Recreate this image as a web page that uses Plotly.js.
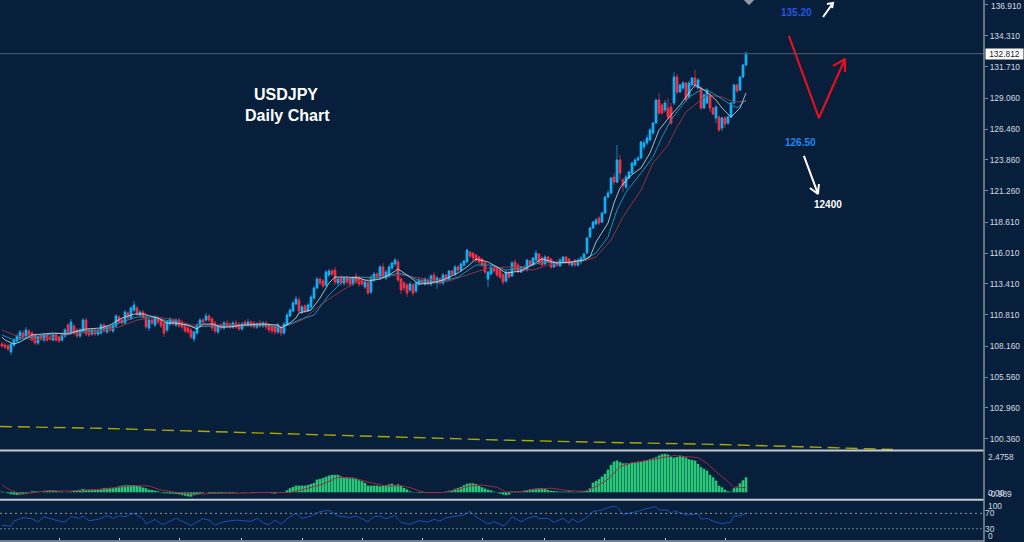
<!DOCTYPE html>
<html><head><meta charset="utf-8">
<script src="https://cdn.plot.ly/plotly-3.0.1.min.js"></script>
<style>html,body{margin:0;padding:0;background:#071f3b;overflow:hidden}#c{width:1024px;height:542px}</style>
</head><body><div id="c"></div>
<script>
const opens=[
108.35,108.26,108.18,107.68,108.26,108.60,108.85,109.27,109.02,109.44,
109.27,109.11,108.43,109.02,108.68,109.11,108.94,108.68,109.11,108.94,
108.68,109.02,109.95,109.27,109.87,109.53,109.02,109.44,110.37,109.53,
109.19,109.53,109.19,109.27,109.95,109.36,109.78,109.44,109.87,110.62,
110.37,110.12,110.96,110.54,111.21,111.38,110.79,111.04,110.62,109.70,
110.37,109.95,110.54,110.37,110.12,109.53,110.03,110.37,109.95,110.37,
110.20,109.95,109.70,109.53,108.77,109.27,109.87,110.37,110.37,110.71,
110.46,110.12,109.36,109.95,109.70,110.12,110.03,109.78,110.12,110.03,
109.61,110.20,109.95,110.20,110.12,109.78,110.12,109.87,110.12,109.95,
109.78,109.87,109.36,109.78,109.27,109.95,110.71,111.13,111.72,112.05,
111.04,111.55,111.13,111.47,112.22,113.07,113.82,113.66,113.32,114.16,
114.50,114.58,113.49,113.91,113.49,113.91,113.82,113.40,114.08,113.91,
113.74,113.15,113.49,112.73,113.74,114.24,113.91,114.84,113.91,114.08,
114.75,115.09,115.26,113.82,113.49,113.32,112.90,113.32,112.81,113.40,
113.74,113.40,113.74,113.40,114.16,113.49,113.82,113.49,114.16,113.82,
114.50,114.24,114.84,114.58,115.00,115.26,116.10,116.01,115.85,115.68,
115.51,115.17,113.82,114.24,114.84,114.75,114.58,114.16,113.66,114.41,
114.08,115.26,115.00,114.41,114.84,114.58,115.34,115.00,115.42,115.93,
115.59,115.09,115.68,115.51,114.84,115.26,114.92,115.26,115.68,115.51,
115.00,115.42,115.00,115.26,115.59,116.01,117.36,118.12,118.46,118.96,
118.63,119.39,120.73,121.07,122.42,121.99,123.85,122.17,121.57,122.33,
122.75,123.43,123.85,124.02,124.95,125.28,125.54,126.12,126.97,128.90,
128.48,128.06,128.23,128.32,128.65,130.84,129.58,129.92,130.34,129.16,
130.17,130.76,129.92,129.92,128.23,128.65,129.33,128.23,127.39,127.47,
126.55,127.39,126.97,127.47,128.65,130.17,129.75,130.84,131.85];
const closes=[
108.18,108.10,107.93,108.35,108.68,109.02,109.36,108.94,109.53,109.11,
108.68,108.43,108.94,108.77,109.11,108.68,108.77,109.11,108.68,108.60,
109.11,109.53,109.27,110.20,109.27,109.02,109.53,110.37,109.19,109.11,
109.53,109.19,109.44,109.95,109.44,109.78,109.53,109.95,110.71,110.20,
110.12,111.04,110.54,111.38,111.63,110.87,111.04,110.62,109.78,110.37,
110.12,110.62,110.20,109.87,109.27,110.20,110.46,110.03,110.37,109.87,
109.78,109.44,109.36,108.94,109.36,109.95,110.37,110.20,110.71,110.37,
109.70,109.44,109.87,109.70,110.12,109.87,109.78,110.12,109.78,109.61,
110.03,109.95,110.20,109.87,109.78,110.03,109.87,110.12,109.78,109.53,
109.44,109.36,109.95,109.27,110.03,110.79,111.21,111.80,112.14,111.13,
111.47,111.13,111.63,112.31,113.07,113.82,113.49,113.24,114.41,114.50,
114.24,113.57,113.82,113.49,113.91,113.57,113.40,113.91,113.57,113.40,
113.40,113.57,112.64,113.99,114.24,113.99,114.84,113.99,114.41,114.84,
115.17,115.42,113.74,112.90,113.07,112.64,113.40,112.64,113.49,113.74,
113.49,113.82,113.40,114.08,113.57,113.91,113.49,114.16,113.82,114.50,
114.24,114.84,114.58,115.09,115.34,116.27,115.76,115.59,115.42,115.26,
115.00,114.41,114.41,114.84,114.50,114.16,113.99,113.57,114.41,113.99,
115.17,114.58,114.41,114.84,114.58,115.42,115.00,115.59,116.01,115.17,
115.00,115.68,115.26,114.84,115.26,115.00,115.42,115.68,115.26,115.09,
115.26,115.00,115.42,115.59,115.93,117.28,118.12,118.63,118.80,118.54,
119.39,120.73,121.07,122.33,121.99,123.85,122.75,121.74,122.42,122.84,
123.60,123.85,124.02,125.37,125.28,125.70,126.38,126.97,128.90,127.81,
127.81,128.65,127.47,126.97,130.84,129.58,130.17,130.34,128.90,130.34,
130.76,130.17,130.59,128.23,129.33,129.75,128.23,127.72,128.32,126.38,
127.39,126.88,127.47,128.65,130.17,129.67,130.84,131.85,132.86];
const highs=[
108.52,108.43,108.35,108.43,108.85,109.19,109.53,109.53,109.78,109.61,
109.44,109.27,109.02,109.19,109.27,109.27,109.11,109.19,109.27,109.02,
109.27,109.70,110.12,110.46,110.03,109.70,109.70,110.54,110.54,109.70,
109.70,109.70,109.61,110.12,110.12,109.95,109.95,110.12,110.87,110.79,
110.54,111.21,111.13,111.55,111.97,111.55,111.21,111.21,110.96,110.54,
110.54,110.79,110.71,110.54,110.29,110.37,110.62,110.54,110.54,110.54,
110.37,110.12,109.87,109.70,109.44,110.12,110.54,110.54,110.96,110.87,
110.62,110.29,110.03,110.12,110.29,110.37,110.20,110.29,110.37,110.20,
110.20,110.37,110.46,110.37,110.29,110.20,110.37,110.29,110.29,110.12,
109.95,110.03,110.12,109.95,110.20,110.96,111.38,111.97,112.39,112.31,
111.63,111.72,111.80,112.48,113.24,114.00,113.99,113.82,114.58,114.67,
114.67,114.84,113.99,114.08,114.08,114.08,113.99,114.08,114.33,114.08,
113.91,113.74,113.66,114.16,114.41,114.41,115.00,115.17,114.58,115.00,
115.26,115.59,115.51,113.99,113.66,113.49,113.57,113.49,113.66,113.99,
113.91,113.99,113.91,114.24,114.41,114.08,113.99,114.33,114.24,114.58,
114.58,115.00,115.00,115.26,115.42,116.35,116.18,116.10,115.93,115.76,
115.59,115.26,114.50,115.00,115.00,114.92,114.67,114.33,114.58,114.50,
115.34,115.51,115.17,114.92,115.00,115.51,115.42,115.68,116.27,116.01,
115.76,115.85,115.76,115.59,115.34,115.42,115.59,115.76,115.76,115.59,
115.34,115.51,115.59,115.76,116.01,117.36,118.20,118.71,118.96,119.13,
119.47,120.81,121.32,122.42,122.75,125.11,124.27,122.33,122.59,122.92,
123.68,124.02,124.19,125.45,125.54,125.96,126.55,127.05,129.00,129.50,
128.65,128.90,129.07,128.65,131.26,131.09,130.26,130.51,130.42,130.51,
130.84,131.43,130.76,130.09,129.50,129.92,129.50,128.32,128.48,127.64,
127.47,127.56,127.64,128.73,130.26,130.26,130.92,131.93,132.95];
const lows=[
108.01,107.93,107.76,107.40,108.10,108.43,108.68,108.77,108.85,108.94,
108.52,108.26,108.26,108.60,108.52,108.52,108.60,108.60,108.52,108.43,
108.52,108.85,109.11,109.11,109.11,108.85,108.85,109.27,109.02,108.94,
109.02,109.02,109.02,109.11,109.27,109.19,109.36,109.27,109.70,110.03,
109.95,109.95,110.37,110.37,111.04,110.71,110.62,110.46,109.61,109.44,
109.95,109.78,110.03,109.70,108.94,109.36,109.87,109.87,109.78,109.70,
109.61,109.27,109.19,108.77,108.52,109.11,109.70,110.03,110.20,110.20,
109.44,109.19,109.19,109.53,109.53,109.70,109.61,109.61,109.61,109.44,
109.44,109.78,109.78,109.70,109.61,109.61,109.70,109.70,109.53,109.27,
109.19,109.11,109.19,109.02,109.11,109.87,110.62,111.04,111.63,110.96,
110.87,110.96,111.04,111.30,112.05,112.98,113.32,113.07,113.15,114.00,
114.08,113.32,113.24,113.24,113.24,113.32,113.15,113.24,113.40,113.15,
113.24,112.98,112.48,112.56,113.57,113.82,113.74,113.82,113.74,113.91,
114.58,114.92,113.57,112.56,112.81,112.31,112.73,112.39,112.64,113.24,
113.32,113.24,113.24,113.24,113.32,112.98,113.32,113.32,113.66,113.66,
114.16,114.08,114.41,114.41,114.84,115.17,115.59,115.34,115.17,115.09,
114.84,114.24,113.15,114.16,114.33,114.00,113.82,113.32,113.49,113.82,
113.99,114.41,114.33,114.33,114.41,114.50,114.84,114.92,115.34,115.00,
114.92,115.00,115.17,114.67,114.75,114.84,114.84,115.17,115.09,114.92,
114.84,114.84,114.84,115.09,115.42,115.93,117.28,118.04,118.37,118.37,
118.54,119.30,120.64,120.98,121.74,121.90,122.17,121.15,121.40,122.25,
122.67,123.35,123.76,123.93,124.69,125.11,125.45,125.96,126.88,127.64,
127.64,127.89,127.30,126.80,128.48,129.33,129.50,129.75,128.73,129.00,
130.09,129.92,129.83,128.06,128.15,128.56,127.89,127.64,126.97,126.22,
126.30,126.55,126.80,127.39,128.56,129.50,129.67,130.76,131.76];

const fastBars=[0,1,4,6,10,14,17,22,24,28,33,36,40,44,47,52,55,58,62,65,67,70,73,76,80,87,92,93,96,98,99,103,106,109,111,115,119,122,126,129,132,135,139,143,147,152,155,158,162,165,168,173,176,180,185,190,194,196,198,202,204,206,209,213,216,219,223,226,229,231,234,235,238,240,243,246,248];
const fastMA=[108.94,108.68,108.35,108.52,109.11,109.19,109.27,109.19,109.36,109.61,109.70,109.95,110.54,110.87,110.87,110.54,110.12,110.12,109.95,109.61,110.03,110.03,109.78,109.78,109.95,110.03,109.95,109.70,110.12,110.54,110.96,111.21,112.22,113.49,113.99,113.99,113.91,113.66,113.82,114.16,114.67,114.16,113.40,113.49,113.74,114.33,114.84,115.51,115.26,114.84,114.33,114.50,114.92,115.51,115.17,115.26,115.42,115.68,116.94,118.54,120.23,121.49,122.42,123.18,124.44,126.38,127.64,128.48,129.50,130.17,129.75,129.58,128.90,128.23,127.47,128.23,129.50];
const midBars=[0,4,10,17,25,33,39,45,50,57,64,70,79,88,93,99,104,109,114,119,126,132,135,140,146,152,158,163,168,175,180,187,193,198,202,205,208,213,217,220,223,226,229,233,235,239,242,245,248];
const midMA=[109.11,108.68,108.94,109.19,109.36,109.53,110.12,110.62,110.62,110.20,109.78,109.87,109.87,109.95,109.70,110.37,110.79,112.48,113.74,113.99,113.91,114.33,114.16,113.57,113.57,113.99,115.00,115.00,114.58,114.84,115.26,115.17,115.34,116.01,117.36,119.64,121.15,122.75,124.10,125.79,127.22,128.23,129.16,129.75,129.75,129.16,128.65,128.23,128.90];
const slowBars=[0,4,10,16,23,33,39,45,52,58,63,70,79,88,93,100,107,112,118,125,133,139,148,155,162,169,177,182,188,193,198,203,207,213,217,222,225,228,233,235,240,244,248];
const slowMA=[109.53,109.11,108.68,108.85,109.19,109.44,109.78,110.37,110.62,110.37,109.95,109.95,109.95,110.03,109.70,110.37,111.80,112.64,113.57,113.99,114.16,113.91,113.57,114.16,114.75,114.84,114.58,115.00,115.26,115.26,115.68,117.11,119.05,121.32,123.60,125.11,126.63,127.89,128.90,129.33,129.16,128.73,128.82];
const longBars=[-0.7,32.7,66,99.3,132.7,166,199.3,232.7,266,297];
const longMA=[101.40,101.25,101.00,100.74,100.54,100.26,100.07,99.92,99.70,99.46];

const macdHist=[
.04,-.02,-.06,-.12,-.14,-.16,-.14,-.10,-.06,.02,
.06,.06,.04,0,.06,.10,.12,.12,.10,.04,
.04,0,-.02,.04,.10,.12,.16,.21,.16,.16,
.16,.16,.16,.21,.27,.27,.27,.27,.31,.37,
.41,.43,.43,.45,.45,.41,.37,.29,.25,.16,
.14,.10,.06,-.02,-.06,-.06,-.08,-.08,-.10,-.12,
-.16,-.21,-.25,-.27,-.18,-.14,-.10,-.04,0,-.04,
-.06,-.08,-.08,-.06,-.04,-.04,-.06,-.04,-.02,0,
-.02,-.02,0,-.02,-.04,0,0,0,-.02,-.04,
-.06,-.08,-.04,-.02,0,.12,.25,.33,.41,.41,
.41,.41,.45,.51,.57,.78,.82,.88,.96,1.03,
1.07,1.07,1.07,.98,.94,.90,.86,.86,.82,.74,
.68,.57,.41,.41,.41,.41,.37,.41,.45,.49,
.53,.45,.49,.39,.27,.18,.06,.02,-.02,-.04,
-.04,-.04,-.04,-.04,-.04,-.02,-.02,0,.04,.10,
.14,.21,.27,.33,.43,.53,.55,.55,.51,.39,
.31,.23,.16,.12,.04,-.02,-.08,-.14,-.18,-.14,
.06,.06,.06,.06,.10,.14,.18,.21,.23,.25,
.25,.21,.14,.10,.08,.06,.04,.04,.04,.06,
.04,.02,.04,.06,.08,.08,.25,.59,.70,.80,
.96,1.13,1.39,1.68,1.89,1.95,1.85,1.78,1.78,1.80,
1.82,1.82,1.85,1.87,1.93,1.99,2.05,2.09,2.15,2.26,
2.34,2.36,2.32,2.19,2.13,2.17,2.26,2.21,2.13,2.03,
1.99,1.95,1.74,1.54,1.44,1.33,1.07,.92,.72,.41,
.31,.16,.06,.04,.25,.35,.55,.74,.92];
const signalBars=[0,3,7,11,14,22,33,39,44,49,53,58,64,72,78,89,96,102,107,112,117,122,128,133,136,141,147,152,156,160,165,168,173,177,183,188,194,198,202,206,210,216,221,224,228,232,235,238,242,244,248];
const signalLine=[.45,.10,-.12,-.02,.08,.08,.18,.31,.41,.39,.14,0,-.12,-.06,-.06,0,-.02,.25,.51,.92,.90,.63,.39,.41,.29,-.02,-.02,.18,.39,.45,.31,.02,.04,.18,.25,.12,.06,.35,.80,1.58,1.82,1.99,2.15,2.26,2.19,2.13,1.78,1.27,.66,.29,.29];
const rsiBars=[0,3,4,7,10,12,14,17,19,21,23,26,27,29,32,35,37,39,41,44,47,48,51,53,54,58,61,63,67,69,71,74,78,83,85,87,89,91,93,96,98,100,103,106,109,112,116,118,122,124,126,128,131,133,136,139,142,144,146,148,154,156,158,162,164,167,168,170,173,175,178,179,182,184,187,189,190,192,195,197,200,203,205,207,212,214,218,219,222,223,224,228,232,233,235,237,240,243,244,246,248];
const rsiLine=[38.7,36.9,50,58.7,56.1,47.4,61.3,54.3,50,47.4,61.3,57,63,50.9,54.3,63.9,57,63.9,61.3,70,56.1,42.2,54.3,42.2,42.2,57,45.6,38.7,56.1,52.6,39.6,48.3,52.6,49.1,57,45.6,40.4,52.6,42.2,61.3,70,57,63,74.4,77.8,63,59.6,63,48.3,61.3,63,56.1,64.8,46.5,41.3,50.9,47.4,54.3,50,58.7,65.7,75.2,61.3,42.2,48.3,37.8,41.3,61.3,48.3,57,63,56.1,57,46.5,57,45.6,56.1,46.5,59.6,74.4,78.7,87.4,87.4,67.4,75.2,80.4,87.4,78.7,78.7,68.3,77,65.7,68.3,55.2,57,50,43,47.4,63.9,63,70];

const priceTicks=[136.91,134.31,131.71,129.06,126.46,123.86,121.26,118.61,116.01,113.41,110.81,108.16,105.56,102.96,100.36];
const rsiTicks=[70,30];
const timeTicks=[19.1,39.3,59.3,79.7,100,120,140.3,160.3,180.7,200.7,221,241];
const lastPrice=132.812;

const redArrowBars=[262.3,272.3,281,277,281,281];
const redArrowPrices=[134.30,127.39,132.36,131.77,132.36,131.26];
const upArrowBars=[273.7,277,275,277,276.7];
const upArrowPrices=[135.9,137.08,136.99,137.08,136.66];
const downArrowBars=[267.3,272,269.3,272,272.3];
const downArrowPrices=[124.19,120.99,121.49,120.99,121.83];

const barIndex=opens.map((_,i)=>i);
const bodyTop=opens.map((o,i)=>Math.max(o,closes[i]));
const bodyBottom=opens.map((o,i)=>Math.min(o,closes[i]));
const BG='#071f3b', AX='#7b8a97', TXT='#d3dbe2', FONT='"Liberation Sans", Arial, sans-serif';
const W=1024,H=542,RIGHT=984;
const px=v=>v/W, py=v=>1-v/H;
const xRange=[-2/3,(RIGHT-2)/3];

const line=(x,y,color,width,extra,axes)=>Object.assign({type:'scatter',mode:'lines',x,y,line:Object.assign({color,width},extra||{}),hoverinfo:'skip',showlegend:false},axes||{});

const traces=[
 {type:'candlestick',x:barIndex,open:opens,high:highs,low:lows,close:closes,
  increasing:{line:{color:'#1a7fb4',width:1},fillcolor:'#12b2f5'},
  decreasing:{line:{color:'#a92f44',width:1},fillcolor:'#f2304a'},
  whiskerwidth:0,hoverinfo:'skip',showlegend:false},
 {type:'candlestick',x:barIndex,open:opens,high:bodyTop,low:bodyBottom,close:closes,
  increasing:{line:{color:'#12b2f5',width:1},fillcolor:'#12b2f5'},
  decreasing:{line:{color:'#f2304a',width:1},fillcolor:'#f2304a'},
  whiskerwidth:0,hoverinfo:'skip',showlegend:false},
 line(slowBars,slowMA,'#8d3540',1),
 line(midBars,midMA,'#1f8fb0',1),
 line(fastBars,fastMA,'rgba(214,222,228,0.8)',1),
 line(longBars,longMA,'#a8a800',1.4,{dash:'12px,6px'}),
 line(redArrowBars,redArrowPrices,'#e2101f',2.2),
 line(upArrowBars,upArrowPrices,'#ffffff',2),
 line(downArrowBars,downArrowPrices,'#ffffff',2),
 {type:'scatter',mode:'markers',x:[249],y:[137.33],marker:{symbol:'diamond',size:8,color:'#8f9aa5'},hoverinfo:'skip',showlegend:false},
 {type:'bar',x:barIndex,y:macdHist,xaxis:'x2',yaxis:'y2',marker:{color:'#27c878',line:{width:0}},hoverinfo:'skip',showlegend:false},
 line(signalBars,signalLine,'#a02a3e',1,null,{xaxis:'x2',yaxis:'y2'}),
 line(rsiBars,rsiLine,'#1f4fb0',1,null,{xaxis:'x3',yaxis:'y3'})
];

const hidden={showgrid:false,zeroline:false,showline:false,showticklabels:false,ticks:'',range:xRange,domain:[0,px(RIGHT)],fixedrange:true};
const tickFont={family:FONT,size:8.4,color:TXT};
const note=(text,x,y,size,color,bold,anchor)=>({text:bold?'<b>'+text+'</b>':text,xref:'paper',yref:'paper',x:px(x),y:py(y),xanchor:anchor||'center',yanchor:'middle',showarrow:false,font:{family:FONT,size,color}});

const layout={
 width:W,height:H,margin:{l:0,r:0,t:0,b:0},paper_bgcolor:BG,plot_bgcolor:BG,showlegend:false,bargap:0.12,
 xaxis:Object.assign({},hidden,{anchor:'y',rangeslider:{visible:false}}),
 xaxis2:Object.assign({},hidden,{anchor:'y2'}),
 xaxis3:Object.assign({},hidden,{anchor:'y3',ticks:'inside',ticklen:2,tickcolor:'#c9d2da',tickvals:timeTicks,tickmode:'array'}),
 yaxis:{domain:[py(450),1],range:[99.42,137.33],side:'right',anchor:'x',tickmode:'array',tickvals:priceTicks,tickformat:'.3f',
  ticks:'outside',ticklen:3,tickcolor:AX,tickfont:tickFont,showgrid:false,zeroline:false,showline:false,fixedrange:true},
 yaxis2:{domain:[py(498),py(452)],range:[-0.35,2.4758],side:'right',anchor:'x2',showticklabels:false,ticks:'',showgrid:false,zeroline:false,showline:false,fixedrange:true},
 yaxis3:{domain:[py(540.3),py(501.8)],range:[0,100],side:'right',anchor:'x3',tickmode:'array',tickvals:rsiTicks,ticks:'',tickfont:tickFont,showgrid:false,zeroline:false,showline:false,fixedrange:true},
 shapes:[
  {type:'line',xref:'x',yref:'y',x0:xRange[0],x1:xRange[1],y0:lastPrice,y1:lastPrice,line:{color:'#415568',width:1.2}},
  {type:'line',xref:'x3',yref:'y3',x0:xRange[0],x1:xRange[1],y0:70,y1:70,line:{color:'#8b99a6',width:1,dash:'2px,3px'}},
  {type:'line',xref:'x3',yref:'y3',x0:xRange[0],x1:xRange[1],y0:30,y1:30,line:{color:'#6d7c8a',width:1,dash:'2px,2px'}},
  {type:'line',xref:'paper',yref:'paper',x0:0,x1:px(RIGHT),y0:py(450.6),y1:py(450.6),line:{color:'#c3c9ce',width:2}},
  {type:'line',xref:'paper',yref:'paper',x0:0,x1:px(RIGHT),y0:py(499.7),y1:py(499.7),line:{color:'#c3c9ce',width:2}},
  {type:'line',xref:'paper',yref:'paper',x0:0,x1:px(RIGHT),y0:py(541),y1:py(541),line:{color:'#6f7f8d',width:2}},
  {type:'line',xref:'paper',yref:'paper',x0:px(RIGHT),x1:px(RIGHT),y0:py(0),y1:py(542),line:{color:AX,width:1.6}}
 ],
 annotations:[
  note('USDJPY',286,95,16,'#ffffff',true),
  note('Daily Chart',287.5,115,16,'#ffffff',true),
  note('135.20',796.5,12,10,'#2358e2',true),
  note('126.50',800.5,142,10,'#1e88f0',true),
  note('12400',828,204.5,10,'#ffffff',true),
  note('136.910',989,5.5,8.4,TXT,false,'left'),
  note('2.4758',986,457,8.4,TXT,false,'left'),
  note('0.00',986,493,8.4,TXT,false,'left'),
  note('-0.989',986,494,8.4,TXT,false,'left'),
  note('100',986,506,8.4,TXT,false,'left'),
  note('0',986,536,8.4,TXT,false,'left'),
  {text:'132.812',xref:'paper',yref:'y',x:px(985),y:lastPrice,xanchor:'left',yanchor:'middle',showarrow:false,bgcolor:'#ffffff',width:37,height:10,borderpad:0,font:{family:FONT,size:8.4,color:'#14202c'}}
 ]
};
Plotly.newPlot('c',traces,layout,{staticPlot:true,displayModeBar:false});
</script></body></html>
